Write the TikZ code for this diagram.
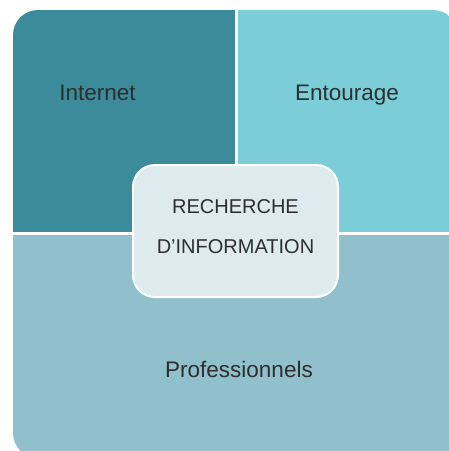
\documentclass[tikz,border=0pt]{standalone}
\usepackage{fontspec}
\setmainfont{Liberation Sans}
\definecolor{cInternet}{HTML}{3B8B9B}
\definecolor{cEntourage}{HTML}{7BCED8}
\definecolor{cPro}{HTML}{8FC0CB}
\definecolor{cCenter}{HTML}{DDEBEE}
\definecolor{cText}{HTML}{2E2E2E}
\tikzset{
  lbl/.style={text=cText, font=\fontsize{22.5}{26}\selectfont, inner sep=0pt, anchor=base},
  clbl/.style={text=cText, font=\fontsize{20}{22}\selectfont, inner sep=0pt, anchor=base},
  centerbox/.style={draw=white, line width=2pt, fill=cCenter, rounded corners=22pt,
    minimum width=205pt, minimum height=132pt, inner sep=0pt}
}
\begin{document}
\begin{tikzpicture}[x=1pt,y=-1pt]
\useasboundingbox (0,0) rectangle (449,451);
\begin{scope}
  \clip (0,0) rectangle (449,451);
  \clip[rounded corners=25pt] (13,10) rectangle (458,458);
  \fill[cInternet] (13,10) rectangle (236.5,233.5);
  \fill[cEntourage] (236.5,10) rectangle (460,233.5);
  \fill[cPro] (13,233.5) rectangle (460,460);
  \draw[white, line width=2.5pt] (236.5,10) -- (236.5,233.5);
  \draw[white, line width=2.5pt] (13,233.5) -- (460,233.5);
\end{scope}
\node[lbl] (internet) at (97.5,100) {Internet};
\node[lbl] (entourage) at (347,100) {Entourage};
\node[lbl] (pro) at (239,377) {Professionnels};
\node[centerbox] (center) at (235.5,231) {};
\node[clbl] (l1) at (235.5,213.5) {RECHERCHE};
\node[clbl] (l2) at (235.5,253.5) {D’INFORMATION};
\end{tikzpicture}
\end{document}
